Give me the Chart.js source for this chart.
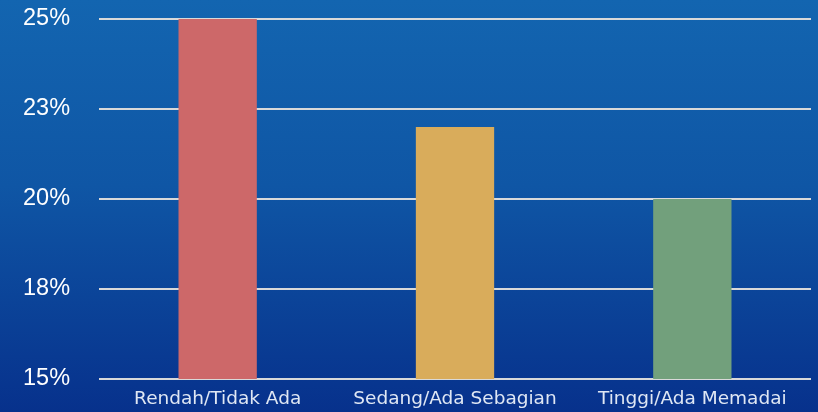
<!DOCTYPE html>
<html>
<head>
<meta charset="utf-8">
<script src="https://cdn.jsdelivr.net/npm/chart.js@4.4.1/dist/chart.umd.min.js"></script>
<style>
  html, body { margin: 0; padding: 0; }
  body { width: 818px; height: 412px; background: linear-gradient(to bottom, #1365b0 0%, #0f56a5 45%, #07318c 100%); }
  #wrap { position: relative; width: 818px; height: 412px; }
</style>
</head>
<body>
<div id="wrap"><canvas id="chart"></canvas></div>
<script>
const categories = ['Rendah/Tidak Ada', 'Sedang/Ada Sebagian', 'Tinggi/Ada Memadai'];
const values = [25, 22, 20];
const barColors = ['#cd6869', '#d9ac5b', '#72a07c'];
const yMin = 15;
const yMax = 25;
const yStep = 2.5;

const ctx = document.getElementById('chart').getContext('2d');
new Chart(ctx, {
  type: 'bar',
  data: {
    labels: categories,
    datasets: [{
      data: values,
      backgroundColor: barColors,
      borderWidth: 0,
      categoryPercentage: 1,
      barPercentage: 0.33
    }]
  },
  options: {
    responsive: true,
    maintainAspectRatio: false,
    animation: false,
    layout: { padding: { left: 23, top: 19, right: 7, bottom: 0 } },
    plugins: {
      legend: { display: false },
      tooltip: { enabled: false }
    },
    scales: {
      x: {
        grid: { display: false, drawTicks: false },
        border: { display: false },
        ticks: {
          color: '#dfe7f4',
          padding: 9,
          font: { family: 'DejaVu Sans', size: 18.5 }
        },
        afterFit: s => { s.height = 33; }
      },
      y: {
        min: yMin,
        max: yMax,
        grid: { color: '#d9d9d9', lineWidth: 2, drawTicks: false },
        border: { display: false },
        ticks: {
          stepSize: yStep,
          color: '#ffffff',
          padding: 0,
          crossAlign: 'far',
          font: { family: 'Liberation Sans', size: 23.5 },
          callback: v => Math.round(v) + '%'
        },
        afterFit: s => { s.width = 76; }
      }
    }
  }
});
</script>
</body>
</html>
